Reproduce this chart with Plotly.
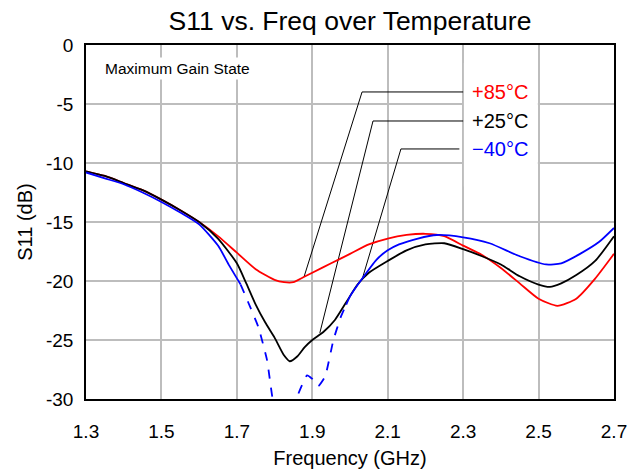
import plotly.graph_objects as go

# ---------------- data ----------------
red_freq = [1.30, 1.35, 1.40, 1.45, 1.50, 1.55, 1.60, 1.65, 1.70, 1.75, 1.80, 1.825, 1.85,
            1.875, 1.90, 1.95, 2.00, 2.05, 2.10, 2.15, 2.20, 2.25, 2.30, 2.35, 2.40, 2.45,
            2.50, 2.55, 2.60, 2.65, 2.70]
red_s11 = [-10.7, -11.1, -11.7, -12.3, -13.1, -14.0, -15.0, -16.2, -17.6, -19.0, -19.9, -20.1, -20.1,
           -19.7, -19.3, -18.5, -17.7, -16.9, -16.4, -16.1, -16.0, -16.2, -17.0, -17.8, -18.9, -20.2,
           -21.5, -22.1, -21.5, -19.8, -17.7]

black_freq = [1.30, 1.35, 1.40, 1.45, 1.50, 1.55, 1.60, 1.65, 1.70, 1.725, 1.75, 1.775, 1.80, 1.825,
              1.84, 1.86, 1.88, 1.90, 1.93, 1.96, 1.99, 2.02, 2.05, 2.10, 2.15, 2.20, 2.25, 2.30,
              2.35, 2.40, 2.45, 2.50, 2.53, 2.56, 2.60, 2.65, 2.70]
black_s11 = [-10.7, -11.1, -11.7, -12.3, -13.1, -14.0, -15.0, -16.4, -18.5, -20.2, -22.0, -23.5, -24.8, -26.3,
             -26.8, -26.4, -25.6, -25.0, -24.3, -23.3, -21.8, -20.3, -19.3, -18.3, -17.4, -16.9, -16.8, -17.3,
             -17.9, -18.6, -19.6, -20.3, -20.5, -20.2, -19.5, -18.3, -16.2]

blue_freq = [1.30, 1.35, 1.40, 1.45, 1.50, 1.55, 1.60, 1.65, 1.68, 1.71,
             1.73, 1.757, 1.78, 1.795, 1.81, 1.83, 1.85, 1.86, 1.886, 1.90, 1.916, 1.934, 1.956, 1.975, 1.99,
             2.00, 2.03, 2.07, 2.10, 2.13, 2.18, 2.23, 2.30, 2.37, 2.45, 2.52, 2.56, 2.61, 2.66, 2.70]
blue_s11 = [-10.8, -11.3, -11.8, -12.5, -13.3, -14.2, -15.2, -17.0, -18.7, -20.3,
            -21.8, -23.9, -26.7, -30.0, -31.5, -32.0, -31.0, -29.8, -28.0, -28.3, -28.9, -28.1, -25.0, -23.1, -22.0,
            -21.3, -19.9, -18.2, -17.4, -16.9, -16.4, -16.1, -16.3, -16.8, -17.9, -18.6, -18.5, -17.7, -16.7, -15.5]
blue_dash_start = 1.71   # measured segment drawn dashed between these frequencies
blue_dash_end = 1.99

labels = ["+85°C", "+25°C", "−40°C"]
label_colors = ["#ff0000", "#000000", "#0000ff"]
# leader lines: label end -> elbow -> curve point
leader_x = [[2.30, 2.032, 1.878], [2.30, 2.061, 1.920], [2.29, 2.135, 2.034]]
leader_y = [[-3.98, -3.98, -19.66], [-6.44, -6.44, -24.4], [-8.81, -8.81, -19.66]]

x_ticks = [1.3, 1.5, 1.7, 1.9, 2.1, 2.3, 2.5, 2.7]
y_ticks = [0, -5, -10, -15, -20, -25, -30]

FONT = "Liberation Sans, Arial, sans-serif"

fig = go.Figure()

for lx, ly in zip(leader_x, leader_y):
    fig.add_trace(go.Scatter(x=lx, y=ly, mode="lines",
                             line=dict(color="black", width=1), hoverinfo="skip"))

fig.add_trace(go.Scatter(x=red_freq, y=red_s11, mode="lines",
                         line=dict(color="#ff0000", width=1.8, shape="spline", smoothing=0.6)))
fig.add_trace(go.Scatter(x=black_freq, y=black_s11, mode="lines",
                         line=dict(color="#000000", width=1.8, shape="spline", smoothing=0.6)))

i0 = blue_freq.index(blue_dash_start)
i1 = blue_freq.index(blue_dash_end)
fig.add_trace(go.Scatter(x=blue_freq[:i0 + 1], y=blue_s11[:i0 + 1], mode="lines",
                         line=dict(color="#0000ff", width=1.8, shape="spline", smoothing=0.6)))
fig.add_trace(go.Scatter(x=blue_freq[i0:i1 + 1], y=blue_s11[i0:i1 + 1], mode="lines",
                         line=dict(color="#0000ff", width=1.8, dash="dash", shape="spline", smoothing=0.4)))
fig.add_trace(go.Scatter(x=blue_freq[i1:], y=blue_s11[i1:], mode="lines",
                         line=dict(color="#0000ff", width=1.8, shape="spline", smoothing=0.6)))

# white box behind the temperature labels
fig.add_shape(type="rect", x0=2.302, x1=2.498, y0=-1.5, y1=-12.0,
              xref="x", yref="y", fillcolor="white", line=dict(width=0), layer="between")

for lab, col, ly in zip(labels, label_colors, leader_y):
    fig.add_annotation(x=2.3186, y=ly[0], text=lab, showarrow=False, xanchor="left",
                       yanchor="middle", font=dict(family=FONT, size=20, color=col))

fig.add_annotation(x=0.03, y=-1.95, xref="paper", yref="y", text="Maximum Gain State",
                   showarrow=False, xanchor="left", yanchor="middle", bgcolor="white",
                   borderpad=2, font=dict(family=FONT, size=15.5, color="black"))

fig.update_layout(
    width=635, height=472,
    margin=dict(l=86, r=21, t=45, b=73),
    paper_bgcolor="white", plot_bgcolor="white",
    showlegend=False,
    title=dict(text="S11 vs. Freq over Temperature", x=0.5, xref="paper",
               y=1 - 21 / 472, yref="container", yanchor="middle", xanchor="center",
               font=dict(family=FONT, size=26.5, color="black")),
    font=dict(family=FONT, color="black"),
)
fig.update_xaxes(range=[1.3, 2.7], tickvals=x_ticks, ticktext=[f"{v:.1f}" for v in x_ticks],
                 showgrid=True, gridcolor="#bdbdbd", gridwidth=1.5,
                 showline=True, linecolor="black", linewidth=1.5, mirror=True,
                 ticks="outside", ticklen=14, tickcolor="rgba(0,0,0,0)",
                 tickfont=dict(family=FONT, size=19), automargin=False,
                 title=dict(text="Frequency (GHz)", font=dict(family=FONT, size=20), standoff=10),
                 zeroline=False)
fig.update_yaxes(range=[-30, 0], tickvals=y_ticks, ticktext=[str(v) for v in y_ticks],
                 showgrid=True, gridcolor="#bdbdbd", gridwidth=1.5,
                 showline=True, linecolor="black", linewidth=1.5, mirror=True,
                 ticks="outside", ticklen=7, tickcolor="rgba(0,0,0,0)",
                 tickfont=dict(family=FONT, size=19), automargin=False,
                 title=dict(text="S11 (dB)", font=dict(family=FONT, size=20), standoff=8),
                 zeroline=False)

fig.write_html("out.html")
